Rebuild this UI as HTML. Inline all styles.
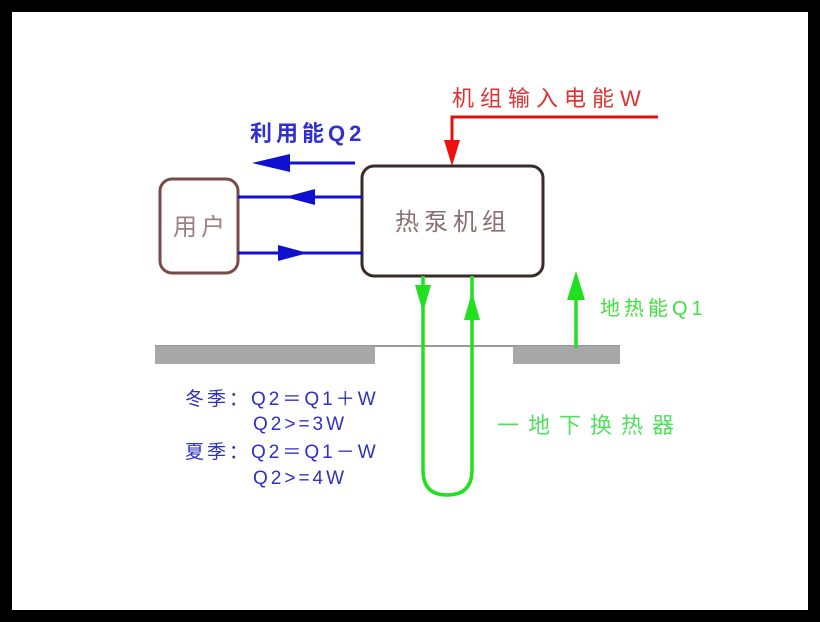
<!DOCTYPE html>
<html><head><meta charset="utf-8"><style>
html,body{margin:0;padding:0;background:#000;width:820px;height:622px;overflow:hidden}
svg{display:block}
text{font-family:"Liberation Sans","Noto Sans CJK SC",sans-serif}
</style></head><body>
<svg width="820" height="622" viewBox="0 0 820 622">
<rect x="0" y="0" width="820" height="622" fill="#000"/>
<rect x="12" y="12" width="796" height="598" fill="#fff"/>
<!-- ground -->
<line x1="155" y1="346" x2="620" y2="346" stroke="#777" stroke-width="1.5"/>
<rect x="155" y="346" width="220" height="18" fill="#a8a8a8"/>
<rect x="513" y="346" width="107" height="18" fill="#a8a8a8"/>
<!-- boxes -->
<rect x="160" y="179" width="78" height="94" rx="12" fill="#fff" stroke="#7a4a4a" stroke-width="3"/>
<text x="201" y="235" font-size="24" fill="#9a8080" text-anchor="middle" letter-spacing="4">用户</text>
<rect x="362" y="166" width="181" height="110" rx="12" fill="#fff" stroke="#3a2a2a" stroke-width="3"/>
<text x="453" y="230" font-size="24" fill="#8a7070" text-anchor="middle" letter-spacing="5">热泵机组</text>
<!-- blue -->
<text x="250" y="141" font-size="22" fill="#3030d0" font-weight="bold" letter-spacing="4">利用能Q2</text>
<line x1="290" y1="163" x2="355" y2="163" stroke="#1010d0" stroke-width="3"/>
<polygon points="252,163 290,154 290,172" fill="#1010d0"/>
<line x1="238" y1="197" x2="362" y2="197" stroke="#1010d0" stroke-width="3"/>
<polygon points="285,197 315,189 315,205" fill="#1010d0"/>
<line x1="238" y1="253" x2="362" y2="253" stroke="#1010d0" stroke-width="3"/>
<polygon points="308,253 278,245 278,261" fill="#1010d0"/>
<!-- red -->
<text x="452" y="106" font-size="22" fill="#e03030" letter-spacing="6">机组输入电能W</text>
<polyline points="658,117 452,117 452,145" fill="none" stroke="#e01010" stroke-width="3"/>
<polygon points="444,140 460,140 452,166" fill="#f01010"/>
<!-- green loop -->
<path d="M423,276 L423,470 Q423,495 447,495 Q472,495 472,470 L472,276" fill="none" stroke="#20e020" stroke-width="3.5"/>
<polygon points="415,285 431,285 423,312" fill="#20e020"/>
<polygon points="464,320 480,320 472,292" fill="#20e020"/>
<line x1="576" y1="295" x2="576" y2="348" stroke="#20e020" stroke-width="3.5"/>
<polygon points="567,300 585,300 576,271" fill="#20e020"/>
<text x="600" y="315" font-size="20" fill="#40e040" letter-spacing="4">地热能Q1</text>
<text x="497" y="433" font-size="22" fill="#50e060" letter-spacing="9">一地下换热器</text>
<!-- formulas -->
<g font-size="19" fill="#3030c0">
<text x="185" y="405" letter-spacing="3">冬季：Q2＝Q1＋W</text>
<text x="253" y="430" letter-spacing="3">Q2&gt;=3W</text>
<text x="185" y="458" letter-spacing="3">夏季：Q2＝Q1－W</text>
<text x="253" y="484" letter-spacing="3">Q2&gt;=4W</text>
</g>
</svg>
</body></html>
